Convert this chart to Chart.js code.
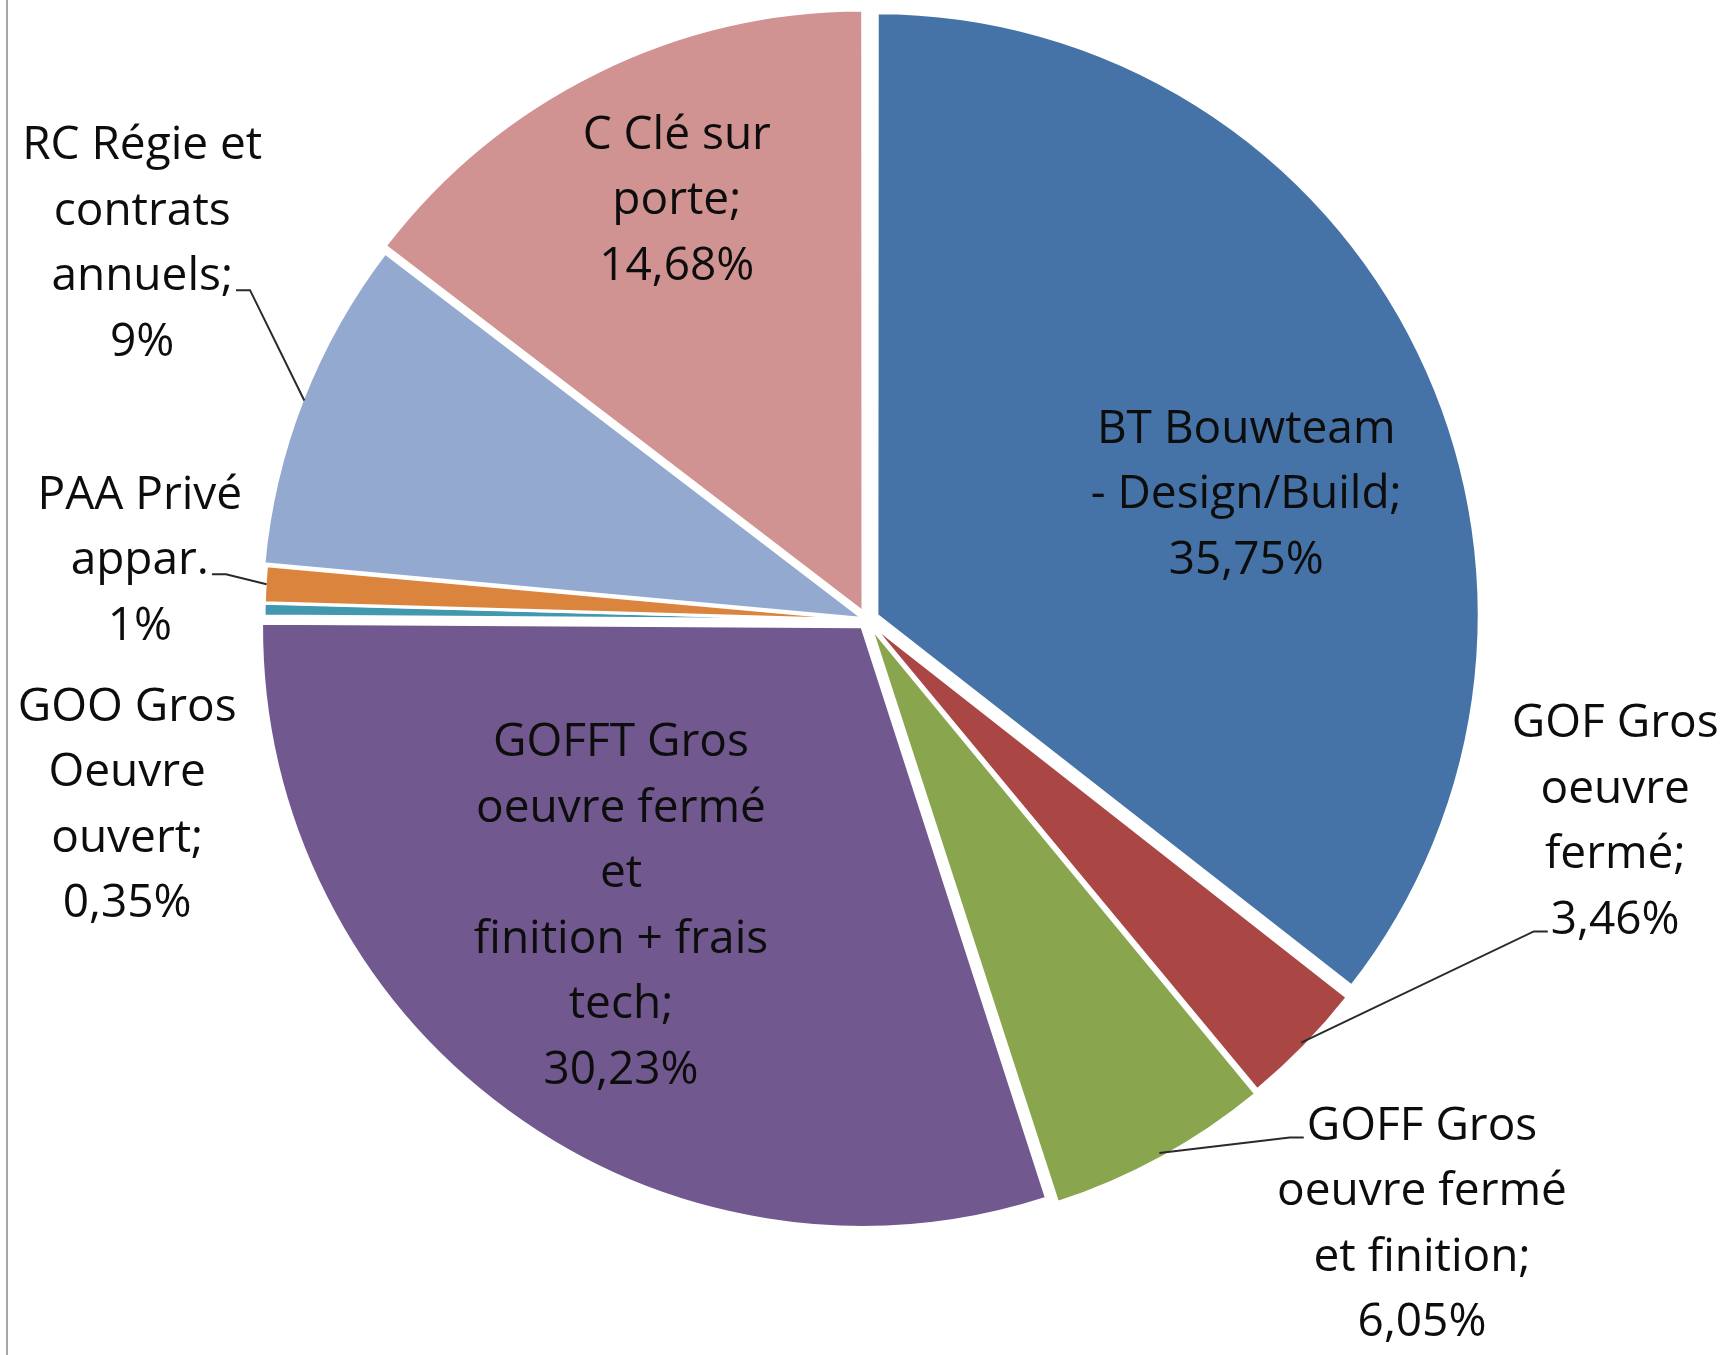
<!DOCTYPE html>
<html lang="fr">
<head>
<meta charset="UTF-8">
<title>Répartition par type de contrat</title>
<script src="https://cdn.jsdelivr.net/npm/chart.js@4"></script>
<style>
  html, body { margin: 0; padding: 0; background: #fff; }
  #wrap { width: 1729px; height: 1355px; position: relative; }
</style>
</head>
<body>
<div id="wrap"><canvas id="pieChart"></canvas></div>
<script>
// Slices, clockwise from 12 o'clock (label lines as wrapped in the original)
const categories = [
  ['BT Bouwteam', '- Design/Build'],
  ['GOF Gros', 'oeuvre', 'fermé'],
  ['GOFF Gros', 'oeuvre fermé', 'et finition'],
  ['GOFFT Gros', 'oeuvre fermé', 'et', 'finition + frais', 'tech'],
  ['GOO Gros', 'Oeuvre', 'ouvert'],
  ['PAA Privé', 'appar.'],
  ['RC Régie et', 'contrats', 'annuels'],
  ['C Clé sur', 'porte']
];
const shares = [35.75, 3.46, 6.05, 30.23, 0.35, 1, 9, 14.68];

const sliceColors = ['#4572A7', '#AA4643', '#89A54E', '#71588F', '#4198AF', '#DB843D', '#93A9CF', '#D19392'];
// Chart.js v4 moves an arc by offset / 4 px
const sliceOffsets = [44, 24, 32, 34, 6, 6, 16, 36];

// label block centres, in pie radii from the pie centre
const labelPos = [
  [0.632, -0.208], [1.247, 0.337], [0.925, 1.008], [-0.41, 0.478],
  [-1.233, 0.31], [-1.212, -0.098], [-1.208, -0.626], [-0.317, -0.698]
];
// leader lines: which text line they leave from, and on which side
const leaders = [
  null,
  { line: 3, side: 'left', dy: 11 },
  { line: 0, side: 'left', dy: 11 },
  null, null,
  { line: 1, side: 'right', dy: 13 },
  { line: 2, side: 'right', dy: 13 },
  null
];

function pctText(v) {
  return String(v).replace('.', ',') + '%';
}

const sliceLabels = {
  id: 'sliceLabels',
  afterDatasetsDraw(chart) {
    const ctx = chart.ctx;
    const arcs = chart.getDatasetMeta(0).data;
    const lh = 65.5;
    ctx.save();
    ctx.font = '46px "Open Sans"';
    ctx.fillStyle = '#0d0d0d';
    ctx.textAlign = 'center';
    ctx.textBaseline = 'middle';
    arcs.forEach((arc, i) => {
      const { x, y, startAngle, endAngle, outerRadius } =
        arc.getProps(['x', 'y', 'startAngle', 'endAngle', 'outerRadius'], true);
      const lines = categories[i].slice();
      const last = lines.length - 1;
      if (!lines[last].endsWith('.')) lines[last] += ';';
      lines.push(pctText(shares[i]));

      const lx = x + labelPos[i][0] * outerRadius;
      const ly = y + labelPos[i][1] * outerRadius;
      const top = ly - (lines.length - 1) / 2 * lh;
      lines.forEach((t, k) => ctx.fillText(t, lx, top + k * lh));

      const ld = leaders[i];
      if (ld) {
        const w = ctx.measureText(lines[ld.line]).width;
        const sgn = ld.side === 'right' ? 1 : -1;
        const sx = lx + sgn * (w / 2 + 3);
        const sy = top + ld.line * lh + ld.dy;
        const mid = (startAngle + endAngle) / 2;
        const r = outerRadius + (arc.options.offset || 0) / 4;
        ctx.beginPath();
        ctx.strokeStyle = '#2a2a2a';
        ctx.lineWidth = 2;
        ctx.moveTo(sx, sy);
        ctx.lineTo(sx + sgn * 14, sy);
        ctx.lineTo(x + Math.cos(mid) * r, y + Math.sin(mid) * r);
        ctx.stroke();
      }
    });
    ctx.restore();
  }
};

const leftFrame = {
  id: 'leftFrame',
  beforeDraw(chart) {
    const ctx = chart.ctx;
    ctx.save();
    ctx.fillStyle = '#fff';
    ctx.fillRect(0, 0, chart.width, chart.height);
    ctx.strokeStyle = '#A6A6A6';
    ctx.lineWidth = 2;
    ctx.beginPath();
    ctx.moveTo(7, 0);
    ctx.lineTo(7, chart.height);
    ctx.stroke();
    ctx.restore();
  }
};

new Chart(document.getElementById('pieChart'), {
  type: 'pie',
  data: {
    labels: categories,
    datasets: [{
      data: shares,
      backgroundColor: sliceColors,
      borderColor: '#ffffff',
      borderWidth: 3,
      offset: sliceOffsets
    }]
  },
  options: {
    responsive: true,
    maintainAspectRatio: false,
    animation: false,
    radius: 600,
    layout: { padding: { left: 5, right: 0, top: 0, bottom: 115 } },
    plugins: {
      legend: { display: false },
      tooltip: { enabled: false }
    }
  },
  plugins: [leftFrame, sliceLabels]
});
</script>
</body>
</html>
